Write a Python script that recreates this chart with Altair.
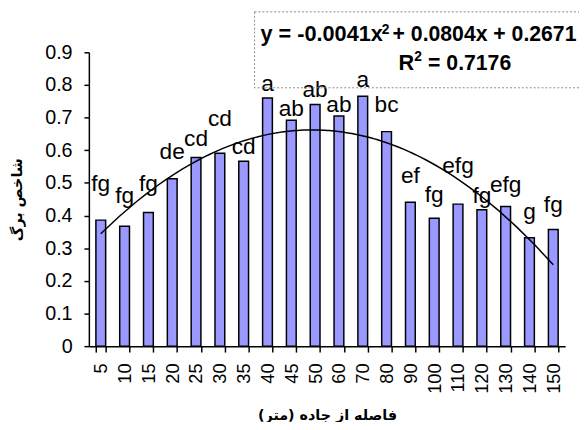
import altair as alt
import pandas as pd

categories = ["5", "10", "15", "20", "25", "30", "35", "40", "45", "50",
              "60", "70", "80", "90", "100", "110", "120", "130", "140", "150"]
values = [0.386, 0.367, 0.409, 0.513, 0.578, 0.591, 0.566, 0.760, 0.692, 0.740,
          0.705, 0.765, 0.657, 0.441, 0.392, 0.435, 0.418, 0.428, 0.332, 0.357]
letters = ["fg", "fg", "fg", "de", "cd", "cd", "cd", "a", "ab", "ab",
           "ab", "a", "bc", "ef", "fg", "efg", "fg", "efg", "g", "fg"]
letter_y = [0.476, 0.437, 0.476, 0.572, 0.614, 0.675, 0.587, 0.782, 0.705, 0.764,
            0.717, 0.794, 0.717, 0.501, 0.443, 0.531, 0.438, 0.471, 0.389, 0.411]
y_ticks = [0, 0.1, 0.2, 0.3, 0.4, 0.5, 0.6, 0.7, 0.8, 0.9]

x_title = "فاصله از جاده (متر)"
y_title = "شاخص برگ"

df = pd.DataFrame({
    "cat": categories,
    "idx": list(range(1, len(categories) + 1)),
    "value": values,
    "letter": letters,
    "ly": letter_y,
})
one = pd.DataFrame({"k": [0]})

W, H = 483, 298
LATIN = "Liberation Sans"
ARAB = "DejaVu Sans"

x_scale = alt.Scale(paddingInner=0.59, paddingOuter=0.295)
x_axis = alt.Axis(labelAngle=-90, tickBand="extent", tickSize=6, labelPadding=11,
                  titlePadding=15, labelFontSize=18.5, labelOverlap=False)
y_scale = alt.Scale(domain=[0, 0.9], nice=False, zero=True)
y_axis = alt.Axis(values=y_ticks, grid=False, tickSize=5, labelPadding=12,
                  titlePadding=20, labelFontSize=20, labelOverlap=False,
                  labelExpr="datum.value == 0 ? '0' : format(datum.value, '.1f')")

bars = alt.Chart(df).mark_bar(color="#9999FF", stroke="black", strokeWidth=1.5).encode(
    x=alt.X("cat:N", sort=categories, title=x_title, scale=x_scale, axis=x_axis),
    y=alt.Y("value:Q", scale=y_scale, axis=y_axis, title=y_title),
)

labels = alt.Chart(df).mark_text(font=LATIN, fontSize=23, baseline="alphabetic",
                                 align="center", color="black").encode(
    x=alt.X("cat:N", sort=categories, title=x_title, scale=x_scale, axis=x_axis),
    y=alt.Y("ly:Q", scale=y_scale, axis=y_axis, title=y_title),
    text="letter:N",
)

trend = alt.Chart(df).transform_regression(
    "idx", "value", method="poly", order=2
).mark_line(color="black", strokeWidth=1.5).encode(
    x=alt.X("idx:Q", scale=alt.Scale(domain=[0.5, len(categories) + 0.5], nice=False, zero=False), axis=None),
    y=alt.Y("value:Q", scale=y_scale, axis=y_axis, title=y_title),
)

box = alt.Chart(one).mark_rect(fill="white", fillOpacity=0, stroke="#888888",
                               strokeWidth=1, strokeDash=[2, 2]).encode(
    x=alt.value(168), x2=alt.value(530), y=alt.value(-41), y2=alt.value(36)
)

eq_style = dict(font=LATIN, fontWeight="bold", color="black", baseline="alphabetic", align="left")
eq1 = alt.Chart(one).mark_text(fontSize=22, **eq_style).encode(
    x=alt.value(174), y=alt.value(-11), text=alt.value("y = -0.0041x"))
eq_sup = alt.Chart(one).mark_text(fontSize=14, **eq_style).encode(
    x=alt.value(297), y=alt.value(-19), text=alt.value("2"))
eq2 = alt.Chart(one).mark_text(fontSize=21.5, **eq_style).encode(
    x=alt.value(308), y=alt.value(-11), text=alt.value("+ 0.0804x + 0.2671"))
r1 = alt.Chart(one).mark_text(fontSize=22, **eq_style).encode(
    x=alt.value(314), y=alt.value(18), text=alt.value("R"))
r_sup = alt.Chart(one).mark_text(fontSize=14, **eq_style).encode(
    x=alt.value(330), y=alt.value(9), text=alt.value("2"))
r2 = alt.Chart(one).mark_text(fontSize=21.5, **eq_style).encode(
    x=alt.value(344), y=alt.value(18), text=alt.value("= 0.7176"))

base = alt.layer(bars, labels)

chart = alt.layer(base, trend, box, eq1, eq_sup, eq2, r1, r_sup, r2).resolve_scale(
    x="independent"
).properties(
    width=W, height=H,
    autosize=alt.AutoSizeParams(type="none"),
    padding={"left": 82, "top": 42, "right": 14, "bottom": 74},
).configure_view(stroke=None).configure_axis(
    domainColor="black", domainWidth=1.5, tickColor="black", tickWidth=1.5,
    labelColor="black", labelFont=LATIN,
    titleFont=ARAB, titleFontSize=14.5, titleFontWeight="bold", titleColor="black",
)

chart.save("out.html", embed_options={"renderer": "svg", "actions": False})
